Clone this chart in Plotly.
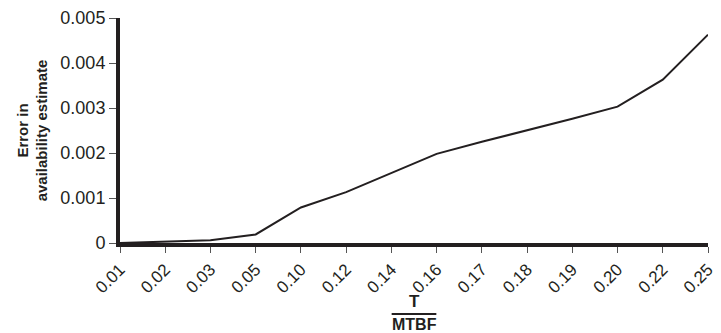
import plotly.graph_objects as go

categories = ["0.01", "0.02", "0.03", "0.05", "0.10", "0.12", "0.14",
              "0.16", "0.17", "0.18", "0.19", "0.20", "0.22", "0.25"]
error_values = [0.0, 0.00003, 0.00006, 0.00019, 0.00079, 0.00113, 0.00155,
                0.00198, 0.00225, 0.0025, 0.00276, 0.00303, 0.00363, 0.00463]
y_tick_vals = [0, 0.001, 0.002, 0.003, 0.004, 0.005]
y_tick_text = ["0", "0.001", "0.002", "0.003", "0.004", "0.005"]

FONT = "Liberation Sans, Arial, sans-serif"
INK = "#231f20"

fig = go.Figure()
fig.add_trace(go.Scatter(
    x=categories, y=error_values, mode="lines",
    line=dict(color=INK, width=2), cliponaxis=False, showlegend=False,
))

fig.update_layout(
    width=721, height=333,
    margin=dict(l=120, r=4, t=18, b=90),
    paper_bgcolor="white", plot_bgcolor="white",
    font=dict(family=FONT, color=INK),
    xaxis=dict(
        type="category", range=[0, len(categories) - 1],
        showgrid=False, zeroline=False,
        showline=True, linecolor=INK, linewidth=4,
        ticks="outside", ticklen=6, tickwidth=1, tickcolor="#555",
        tickangle=-45, tickfont=dict(size=17, family=FONT, color=INK),
    ),
    yaxis=dict(
        range=[0, 0.005], tickvals=y_tick_vals, ticktext=y_tick_text,
        showgrid=False, zeroline=False,
        showline=True, linecolor=INK, linewidth=4,
        ticks="outside", ticklen=7, tickwidth=1, tickcolor="#555",
        tickfont=dict(size=18, family=FONT, color=INK),
        title=dict(text="<b>Error in<br>availability estimate</b>",
                   font=dict(size=15, family=FONT, color=INK), standoff=10),
    ),
)

fig.add_annotation(xref="paper", yref="paper", x=0.5, y=-0.262,
                   text="<b>T</b>", showarrow=False, yanchor="middle",
                   font=dict(size=17, family=FONT, color=INK))
fig.add_annotation(xref="paper", yref="paper", x=0.5, y=-0.36,
                   text="<b>MTBF</b>", showarrow=False, yanchor="middle",
                   font=dict(size=16, family=FONT, color=INK))
fig.add_shape(type="line", xref="paper", yref="paper",
              x0=0.462, x1=0.538, y0=-0.316, y1=-0.316,
              line=dict(color=INK, width=2))

fig.write_html("out.html")
